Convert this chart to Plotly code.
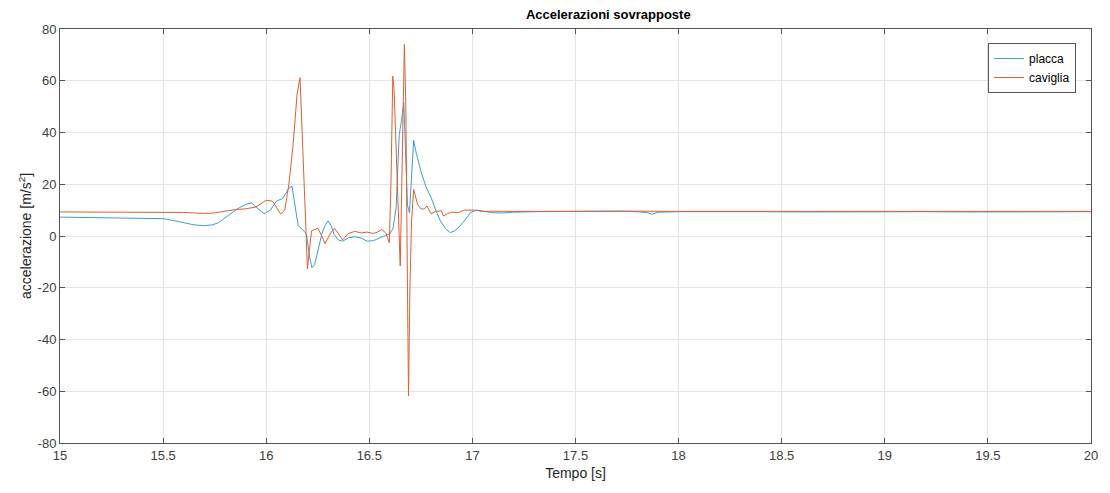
import plotly.graph_objects as go

# placca (plate) acceleration samples
t_placca = [15.0, 15.1, 15.2, 15.3, 15.4, 15.5, 15.55, 15.6, 15.65, 15.7, 15.74, 15.77,
            15.8, 15.83, 15.86, 15.9, 15.93, 15.96, 15.99, 16.02, 16.05, 16.08, 16.11,
            16.125, 16.14, 16.155, 16.175, 16.195, 16.21, 16.222, 16.235, 16.25, 16.27,
            16.285, 16.3, 16.315, 16.33, 16.35, 16.37, 16.4, 16.43, 16.46, 16.49, 16.52,
            16.55, 16.58, 16.6, 16.615, 16.63, 16.645, 16.655, 16.667, 16.675, 16.685,
            16.695, 16.705, 16.715, 16.725, 16.75, 16.775, 16.8, 16.825, 16.845, 16.87,
            16.893, 16.915, 16.94, 16.965, 16.99, 17.02, 17.05, 17.1, 17.15, 17.2, 17.3,
            17.4, 17.5, 17.6, 17.7, 17.8, 17.85, 17.87, 17.9, 18.0, 18.2, 18.4, 18.6,
            18.8, 19.0, 19.2, 19.4, 19.6, 19.8, 20.0]
a_placca = [7.3, 7.2, 7.2, 7.1, 7.0, 6.7, 6.0, 5.0, 4.3, 4.0, 4.3, 5.2,
            7.0, 9.0, 10.5, 12.2, 12.8, 10.5, 8.6, 10.0, 13.5, 14.5, 18.5,
            19.3, 12.0, 4.0, 2.6, 0.8, -8.0, -12.3, -11.0, -6.0, 0.8,
            4.0, 5.8, 4.0, 0.5, -1.5, -2.0, -0.7, -0.3, -0.8, -2.0, -1.8,
            -0.6, 0.3, 0.8, 3.0, 11.0, 39.0, 44.0, 51.5, 35.0, 12.0,
            9.0, 24.0, 37.0, 33.0, 25.0, 19.0, 14.8, 9.5, 5.8, 2.8,
            1.3, 2.0, 3.9, 6.2, 9.0, 10.0, 9.6, 9.0, 8.9, 9.2, 9.4,
            9.5, 9.4, 9.5, 9.6, 9.4, 9.0, 8.4, 9.2, 9.4, 9.5, 9.4, 9.3,
            9.4, 9.3, 9.4, 9.3, 9.4, 9.3, 9.4]

# caviglia (ankle) acceleration samples
t_caviglia = [15.0, 15.2, 15.4, 15.5, 15.6, 15.7, 15.75, 15.8, 15.85, 15.9, 15.95, 15.98,
              16.0, 16.03, 16.05, 16.07, 16.09, 16.11, 16.13, 16.15, 16.164, 16.175,
              16.19, 16.2, 16.21, 16.22, 16.25, 16.27, 16.285, 16.31, 16.33, 16.35,
              16.37, 16.4, 16.43, 16.46, 16.49, 16.52, 16.54, 16.56, 16.58, 16.597,
              16.605, 16.614, 16.62, 16.635, 16.65, 16.66, 16.67, 16.677, 16.683, 16.69,
              16.697, 16.705, 16.715, 16.725, 16.734, 16.75, 16.766, 16.78, 16.8, 16.82,
              16.85, 16.86, 16.88, 16.9, 16.93, 16.96, 17.01, 17.05, 17.1, 17.2, 17.4,
              17.6, 17.8, 18.0, 18.3, 18.6, 18.9, 19.2, 19.5, 19.8, 20.0]
a_caviglia = [9.3, 9.3, 9.3, 9.2, 9.1, 8.7, 8.9, 9.6, 10.2, 10.5, 11.2, 12.8,
              13.8, 13.5, 11.0, 8.5, 10.0, 20.0, 35.0, 55.0, 61.2, 40.0,
              5.0, -12.7, -5.0, 2.0, 3.0, 0.0, -3.0, 0.8, 3.0, 1.0,
              -1.5, 1.0, 1.8, 1.2, 1.5, 1.0, 1.5, 2.5, 1.2, -2.6,
              20.0, 61.8, 57.0, 20.0, -11.6, 30.0, 74.0, 51.0, -10.0, -61.8,
              -20.0, 5.8, 18.0, 15.0, 12.3, 10.5, 10.4, 11.6, 8.5, 9.5,
              9.7, 7.7, 8.7, 9.2, 9.0, 10.0, 10.0, 9.5, 9.6, 9.5, 9.6,
              9.5, 9.6, 9.5, 9.6, 9.5, 9.5, 9.6, 9.5, 9.5, 9.5]

x_ticks = [15, 15.5, 16, 16.5, 17, 17.5, 18, 18.5, 19, 19.5, 20]
y_ticks = [-80, -60, -40, -20, 0, 20, 40, 60, 80]

font_family = "Liberation Sans, Arial, sans-serif"

fig = go.Figure()
fig.add_trace(go.Scatter(x=t_placca, y=a_placca, mode="lines", name="placca",
                         line=dict(color="#3a9fd4", width=1)))
fig.add_trace(go.Scatter(x=t_caviglia, y=a_caviglia, mode="lines", name="caviglia",
                         line=dict(color="#dc6030", width=1)))

axis_common = dict(
    showline=True, linecolor="#555555", linewidth=1, mirror="allticks",
    ticks="inside", ticklen=5, tickcolor="#555555",
    showgrid=True, gridcolor="#e3e3e3", gridwidth=1, zeroline=False,
    tickfont=dict(family=font_family, size=13, color="#404040"),
)

fig.update_layout(
    width=1110, height=493,
    margin=dict(l=60, r=12, t=29, b=50),
    paper_bgcolor="white", plot_bgcolor="white",
    title=dict(text="<b>Accelerazioni sovrapposte</b>", x=0.548, xanchor="center",
               y=0.98, yanchor="top",
               font=dict(family=font_family, size=13, color="#000000")),
    xaxis=dict(range=[15, 20], tickvals=x_ticks, ticktext=[f"{v:g}" for v in x_ticks],
               title=dict(text="Tempo [s]", standoff=6,
                          font=dict(family=font_family, size=14, color="#262626")),
               **axis_common),
    yaxis=dict(range=[-80, 80], tickvals=y_ticks, ticktext=[str(v) for v in y_ticks],
               title=dict(text="accelerazione [m/s<sup>2</sup>]", standoff=2,
                          font=dict(family=font_family, size=14, color="#262626")),
               **axis_common),
    legend=dict(x=0.9855, y=0.966, xanchor="right", yanchor="top",
                bgcolor="white", bordercolor="#555555", borderwidth=1,
                font=dict(family=font_family, size=12, color="#000000"),
                tracegroupgap=0, itemwidth=30),
    showlegend=True,
)

fig.write_html("out.html")
